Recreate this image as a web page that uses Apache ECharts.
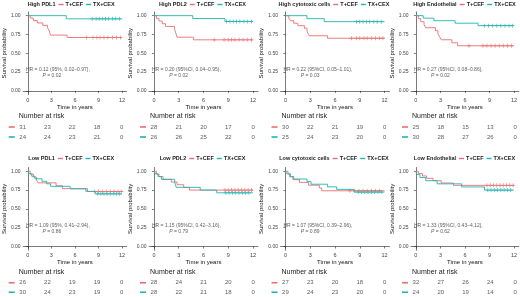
<!DOCTYPE html>
<html>
<head>
<meta charset="utf-8">
<script src="https://cdn.jsdelivr.net/npm/echarts@6/dist/echarts.min.js"></script>
<style>
html, body { margin: 0; padding: 0; background: #fff; }
#main { width: 520px; height: 297px; }
</style>
</head>
<body>
<div id="main"></div>
<script>
var groups = ['T+CEF', 'TX+CEX'];
var colors = ['#EB6F72', '#1FB5B0'];

var titles = ['High PDL1', 'High PDL2', 'High cytotoxic cells', 'High Endothelial',
              'Low PDL1', 'Low PDL2', 'Low cytotoxic cells', 'Low Endothelial'];

var hrText = ['HR = 0.12 (95%, 0.02\u20130.97),', 'HR = 0.20 (95%CI, 0.04\u20130.95),',
              'HR = 0.22 (95%CI, 0.05\u20131.01),', 'HR = 0.27 (95%CI, 0.08\u20130.86),',
              'HR = 1.09 (95%, 0.41\u20132.94),', 'HR = 1.15 (95%CI, 0.42\u20133.16),',
              'HR = 1.07 (95%CI, 0.39\u20132.96),', 'HR = 1.33 (95%CI, 0.43\u20134.12),'];
var pValues = ['0.02', '0.02', '0.03', '0.02', '0.86', '0.79', '0.89', '0.62'];

// survival steps: [time in years, survival probability]
var cefCurves = [
  [[0,1],[0.3,0.968],[0.7,0.935],[1.2,0.903],[1.9,0.871],[2.5,0.839],[2.7,0.806],[2.8,0.774],[2.9,0.742],[5.0,0.71],[12,0.71]],
  [[0,1],[0.3,0.964],[0.6,0.929],[1.0,0.893],[1.4,0.857],[2.5,0.821],[2.6,0.786],[2.7,0.75],[2.8,0.714],[4.8,0.679],[12,0.679]],
  [[0,1],[0.4,0.967],[0.6,0.933],[1.0,0.9],[1.5,0.867],[2.3,0.833],[2.6,0.8],[2.7,0.767],[2.9,0.733],[5.1,0.7],[12,0.7]],
  [[0,1],[0.3,0.96],[0.6,0.92],[1.0,0.88],[1.2,0.84],[2.4,0.8],[2.7,0.76],[2.9,0.72],[3.1,0.68],[4.4,0.64],[5.1,0.6],[12,0.6]],
  [[0,1],[0.3,0.962],[0.7,0.923],[1.1,0.885],[1.3,0.846],[3.6,0.808],[4.4,0.769],[7.6,0.731],[12,0.731]],
  [[0,1],[0.3,0.964],[0.6,0.929],[1.1,0.893],[2.1,0.857],[2.8,0.821],[3.6,0.786],[4.3,0.75],[12,0.75]],
  [[0,1],[0.2,0.963],[0.5,0.926],[0.9,0.889],[1.7,0.852],[2.8,0.815],[4.1,0.778],[4.4,0.741],[12,0.741]],
  [[0,1],[0.3,0.969],[0.8,0.938],[1.3,0.906],[2.1,0.875],[3.1,0.844],[4.6,0.813],[12,0.813]]
];
var cexCurves = [
  [[0,1],[4.9,0.958],[12,0.958]],
  [[0,1],[4.7,0.962],[8.6,0.923],[12,0.923]],
  [[0,1],[2.6,0.96],[4.7,0.92],[12,0.92]],
  [[0,1],[0.9,0.967],[2.2,0.933],[4.8,0.9],[7.6,0.867],[12,0.867]],
  [[0,1],[0.2,0.967],[0.5,0.933],[0.9,0.9],[1.8,0.867],[2.4,0.833],[2.9,0.8],[5.4,0.767],[7.4,0.733],[8.6,0.7],[12,0.7]],
  [[0,1],[0.2,0.964],[0.5,0.929],[0.9,0.893],[2.5,0.857],[2.6,0.821],[2.7,0.786],[5.6,0.75],[7.6,0.714],[12,0.714]],
  [[0,1],[0.3,0.966],[0.6,0.931],[1.0,0.897],[2.6,0.862],[3.1,0.828],[5.1,0.793],[6.2,0.759],[8.3,0.724],[12,0.724]],
  [[0,1],[0.1,0.958],[0.5,0.917],[1.2,0.875],[2.6,0.833],[5.6,0.792],[8.4,0.75],[12,0.75]]
];

// censoring times
var cefCensor = [
  [7.5,8.3,8.8,9.2,9.7,10.2,10.8,11.3,11.8],
  [7.3,8.5,9.0,9.4,9.8,10.3,10.8,11.3,11.8],
  [8.0,8.6,9.0,9.5,9.9,10.4,10.9,11.4,11.8],
  [6.5,8.2,8.7,9.2,9.7,10.2,10.7,11.2,11.7],
  [8.5,9.0,9.5,10.0,10.5,11.0,11.5,11.9],
  [8.6,9.0,9.4,9.8,10.2,10.6,11.0,11.4,11.8],
  [7.8,8.4,8.9,9.4,9.9,10.4,10.9,11.4],
  [8.7,9.1,9.5,9.9,10.3,10.7,11.1,11.5,11.9]
];
var cexCensor = [
  [8.2,8.7,9.1,9.5,9.9,10.3,10.8,11.2,11.7],
  [8.8,9.2,9.6,10.0,10.4,10.9,11.3,11.8],
  [8.6,9.0,9.4,9.8,10.2,10.7,11.1,11.6],
  [8.4,8.9,9.4,9.9,10.4,10.9,11.4,11.8],
  [8.9,9.3,9.7,10.1,10.5,10.9,11.3,11.7],
  [8.7,9.1,9.5,9.9,10.3,10.7,11.1,11.5],
  [8.8,9.2,9.6,10.0,10.4,10.8,11.2,11.6],
  [8.8,9.2,9.6,10.0,10.4,10.8,11.2,11.6]
];

var riskTimes = [0, 3, 6, 9, 12];
var riskCef = [[31,23,22,18,0],[28,21,20,17,0],[30,22,21,19,0],[25,18,15,13,0],
               [26,22,19,19,0],[28,24,21,20,0],[27,23,20,18,0],[32,27,26,24,0]];
var riskCex = [[24,24,23,21,0],[26,26,25,22,0],[25,24,23,20,0],[30,28,27,26,0],
               [30,24,23,19,0],[28,22,21,18,0],[29,24,23,20,0],[24,20,19,14,0]];

var xTicks = [0, 3, 6, 9, 12];
var yTicks = [0, 0.25, 0.5, 0.75, 1];

// layout
var colLeft = [17.7, 149, 280.5, 411];
var plotW = 109;
var rowTop = [11.9, 167.5];
var plotH = 82.8;
var riskTop = [122, 278];
var legendY = [1.5, 155.5];

var plusPath = 'path://M4,0H6V10H4ZM0,4H10V6H0Z';
var font = 'Liberation Sans, Arial, sans-serif';
var clear = 'rgba(0,0,0,0)';

function survAt(curve, t) {
  var s = 1;
  for (var i = 0; i < curve.length; i++) {
    if (curve[i][0] <= t) s = curve[i][1];
  }
  return s;
}

var grids = [], xAxes = [], yAxes = [], series = [], graphics = [];

for (var p = 0; p < 8; p++) {
  var col = p % 4, row = Math.floor(p / 4);
  var left = colLeft[col];
  var g = grids.length;

  grids.push({ left: left, top: rowTop[row], width: plotW, height: plotH });
  xAxes.push({
    gridIndex: g, type: 'value', min: -0.6, max: 12.6,
    name: 'Time in years', nameLocation: 'middle', nameGap: 8,
    nameTextStyle: { fontSize: 6, color: '#111', fontFamily: font },
    axisLine: { lineStyle: { color: '#222', width: 0.6 } },
    axisTick: { customValues: xTicks, length: 2, lineStyle: { color: '#222', width: 0.6 } },
    axisLabel: { customValues: xTicks, fontSize: 5.5, color: '#444', margin: 2.5, fontFamily: font },
    splitLine: { show: false }
  });
  yAxes.push({
    gridIndex: g, type: 'value', min: -0.05, max: 1.05,
    name: 'Survival probability', nameLocation: 'middle', nameGap: 13.5,
    nameTextStyle: { fontSize: 6, color: '#111', fontFamily: font },
    axisLine: { show: true, lineStyle: { color: '#222', width: 0.6 } },
    axisTick: { show: true, customValues: yTicks, length: 2, lineStyle: { color: '#222', width: 0.6 } },
    axisLabel: {
      customValues: yTicks, fontSize: 5, color: '#444', margin: 2.5, fontFamily: font,
      formatter: function (v) { return v.toFixed(2); }
    },
    splitLine: { show: false }
  });

  [cefCurves[p], cexCurves[p]].forEach(function (curve, k) {
    series.push({
      type: 'line', name: groups[k], xAxisIndex: g, yAxisIndex: g,
      data: curve, step: 'end', showSymbol: false, silent: true,
      lineStyle: { color: colors[k], width: 0.9 }
    });
    var cens = (k === 0 ? cefCensor : cexCensor)[p];
    series.push({
      type: 'scatter', xAxisIndex: g, yAxisIndex: g, silent: true,
      symbol: plusPath, symbolSize: 4,
      itemStyle: { color: colors[k] },
      data: cens.map(function (t) { return [t, survAt(curve, t)]; })
    });
  });

  // HR annotation
  series.push({
    type: 'scatter', xAxisIndex: g, yAxisIndex: g, silent: true,
    symbolSize: 1, itemStyle: { color: clear },
    data: [[-0.3, 0.279, hrText[p]]],
    label: {
      show: true, position: 'right', distance: 0, fontSize: 5, color: '#333', fontFamily: font,
      formatter: function (d) { return d.value[2]; }
    }
  });
  series.push({
    type: 'scatter', xAxisIndex: g, yAxisIndex: g, silent: true,
    symbolSize: 1, itemStyle: { color: clear },
    data: [[1.8, 0.203, pValues[p]]],
    label: {
      show: true, position: 'right', distance: 0, fontSize: 5, color: '#333', fontFamily: font,
      formatter: function (d) { return '{i|P} = ' + d.value[2]; },
      rich: { i: { fontStyle: 'italic', fontSize: 5, color: '#333', fontFamily: font } }
    }
  });

  // risk table
  var rg = grids.length;
  grids.push({ left: left, top: riskTop[row], width: plotW, height: 20 });
  xAxes.push({ gridIndex: rg, type: 'value', min: -0.6, max: 12.6, show: false });
  yAxes.push({
    gridIndex: rg, type: 'category', data: groups, inverse: true,
    axisLine: { show: false }, axisTick: { show: false }, splitLine: { show: false },
    axisLabel: {
      margin: 3, interval: 0,
      formatter: function (v) { return v === groups[0] ? '{a| }' : '{b| }'; },
      rich: {
        a: { backgroundColor: colors[0], width: 6, height: 1.6, fontSize: 1 },
        b: { backgroundColor: colors[1], width: 6, height: 1.6, fontSize: 1 }
      }
    }
  });
  [riskCef[p], riskCex[p]].forEach(function (vals, k) {
    series.push({
      type: 'scatter', xAxisIndex: rg, yAxisIndex: rg, silent: true,
      symbolSize: 1, itemStyle: { color: clear },
      data: riskTimes.map(function (t, i) { return [t, groups[k], vals[i]]; }),
      label: {
        show: true, position: 'inside', fontSize: 6, color: '#333', fontFamily: font,
        formatter: function (d) { return String(d.value[2]); }
      }
    });
  });

  graphics.push({
    type: 'text', x: left + 1, y: riskTop[row] - 6,
    style: { text: 'Number at risk', fontSize: 7, fill: '#222', fontFamily: font, verticalAlign: 'middle' }
  });

  graphics.push({
    type: 'text', x: left + plotW / 2 - 1, y: legendY[row],
    style: {
      text: '{t|' + titles[p] + '}{g| }{r| }{h| }{n|T+CEF}{g| }{c| }{h| }{n|TX+CEX}',
      align: 'center', verticalAlign: 'top', fontFamily: font,
      rich: {
        t: { fontSize: 5.5, fontWeight: 'bold', fill: '#222', fontFamily: font },
        n: { fontSize: 5.5, fontWeight: 'bold', fill: '#222', fontFamily: font },
        g: { width: 3, fontSize: 1 },
        h: { width: 2, fontSize: 1 },
        r: { backgroundColor: colors[0], width: 5, height: 1.4, fontSize: 1 },
        c: { backgroundColor: colors[1], width: 5, height: 1.4, fontSize: 1 }
      }
    }
  });
}

var chart = echarts.init(document.getElementById('main'));
chart.setOption({
  animation: false,
  backgroundColor: '#fff',
  textStyle: { fontFamily: font },
  grid: grids,
  xAxis: xAxes,
  yAxis: yAxes,
  series: series,
  graphic: graphics
});
</script>
</body>
</html>
